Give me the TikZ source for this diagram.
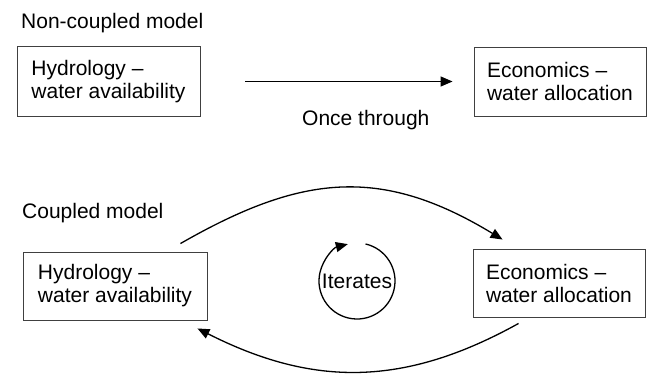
\documentclass[tikz,border=0pt]{standalone}
\usepackage{fontspec}
\setmainfont{Liberation Sans}
\usetikzlibrary{arrows.meta}

\tikzset{
  model/.style={draw=black!75, line width=0.9pt, align=left, inner sep=0pt,
    font=\fontsize{21}{23}\selectfont},
  lbl/.style={inner sep=0pt, anchor=base west, font=\fontsize{21}{23}\selectfont},
  flow/.style={line width=1.3pt, -{Triangle[length=12pt,width=10pt]}}
}

\begin{document}
\begin{tikzpicture}[x=1pt,y=-1pt]
\useasboundingbox (0,0) rectangle (647,375);

% non-coupled
\node[lbl] (title1) at (21,28) {Non-coupled model};
\node[model, minimum width=183pt, minimum height=70pt] (hyd1) at (108.5,81.5) {Hydrology –\\water availability};
\node[model, minimum width=172pt, minimum height=69pt] (eco1) at (560,81.5) {Economics –\\water allocation};
\draw[flow, shorten <=45pt, shorten >=21pt] (hyd1) -- (eco1);
\node[lbl] (once) at (302,125) {Once through};

% coupled
\node[lbl] (title2) at (22,218) {Coupled model};
\node[model, minimum width=184pt, minimum height=68pt] (hyd2) at (115,286) {Hydrology –\\water availability};
\node[model, minimum width=172pt, minimum height=68pt] (eco2) at (559,283) {Economics –\\water allocation};
\draw[flow] ([xshift=-27pt,yshift=8pt]hyd2.north east) .. controls (300,175) and (380,165) .. ([xshift=30pt,yshift=9pt]eco2.north west);
\draw[flow] ([xshift=46pt,yshift=-6pt]eco2.south west) .. controls (404,387) and (313,387) .. ([xshift=-10pt,yshift=-8pt]hyd2.south east);

\node[lbl, anchor=center] (iter) at (357,281) {Iterates};
\draw[flow] ([shift={(77:38pt)}]iter.center) arc[start angle=77, end angle=-256, radius=38pt];

\end{tikzpicture}
\end{document}
